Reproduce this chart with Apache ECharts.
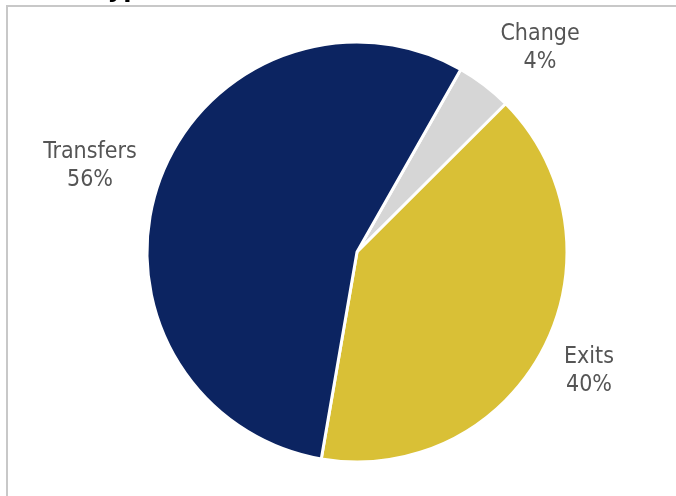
<!DOCTYPE html>
<html>
<head>
<meta charset="utf-8">
<script src="https://cdn.jsdelivr.net/npm/echarts@6/dist/echarts.min.js"></script>
<style>html,body{margin:0;padding:0;background:#fff}#c{width:676px;height:496px}</style>
</head>
<body>
<div id="c"></div>
<script>
const categories = ["Change", "Exits", "Transfers"];
const values = [4.3, 40.2, 55.5];
const colors = ["#D6D6D6", "#D9C036", "#0C2461"];
const labelSpots = { Change: [540, 48], Exits: [589, 371], Transfers: [90, 166] };

const chart = echarts.init(document.getElementById('c'), null, { renderer: 'canvas' });
chart.setOption({
  animation: false,
  graphic: [
    { type: 'rect', shape: { x: 7, y: 6, width: 700, height: 520 }, style: { fill: 'none', stroke: '#C8C8C8', lineWidth: 2 }, z: 0 },
    { type: 'text', left: 94, top: -21, style: { text: 'Type', font: 'bold 24px "DejaVu Sans"', fill: '#000' } }
  ],
  series: [{
    type: 'pie',
    center: [357, 252],
    radius: [0, 210],
    startAngle: 60.4,
    clockwise: true,
    percentPrecision: 0,
    itemStyle: { borderColor: '#fff', borderWidth: 3 },
    label: {
      show: true,
      position: 'outside',
      formatter: '{b}\n{d}%',
      color: '#555555',
      fontFamily: '"DejaVu Sans Condensed", "DejaVu Sans"',
      fontSize: 23,
      lineHeight: 28,
      align: 'center'
    },
    labelLine: { show: false },
    labelLayout: function (p) {
      const s = labelSpots[p.text ? p.text.split('\n')[0] : ''] || null;
      if (!s) return {};
      return { x: s[0], y: s[1], align: 'center', verticalAlign: 'middle' };
    },
    data: categories.map((c, i) => ({ name: c, value: values[i], itemStyle: { color: colors[i] } }))
  }]
});
</script>
</body>
</html>
